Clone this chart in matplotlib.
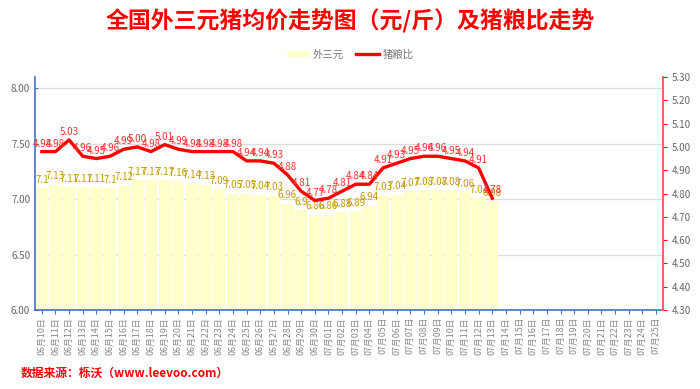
import numpy as np
import matplotlib
matplotlib.use("Agg")
import matplotlib.pyplot as plt
from matplotlib.patches import Patch
from matplotlib.lines import Line2D

plt.rcParams['font.family'] = ['Noto Sans CJK SC', 'DejaVu Sans']

# 日期 06-10 ~ 07-25
dates = ([f"06月{d:02d}日" for d in range(10, 31)] +
         [f"07月{d:02d}日" for d in range(1, 26)])

price = [7.10, 7.13, 7.11, 7.11, 7.11, 7.10, 7.12, 7.17, 7.17, 7.17,
         7.16, 7.14, 7.13, 7.09, 7.05, 7.05, 7.04, 7.03, 6.96, 6.90,
         6.86, 6.86, 6.88, 6.89, 6.94, 7.03, 7.04, 7.07, 7.08, 7.08,
         7.08, 7.06, 7.01, 6.98]

ratio = [4.98, 4.98, 5.03, 4.96, 4.95, 4.96, 4.99, 5.00, 4.98, 5.01,
         4.99, 4.98, 4.98, 4.98, 4.98, 4.94, 4.94, 4.93, 4.88, 4.81,
         4.77, 4.78, 4.81, 4.84, 4.84, 4.91, 4.93, 4.95, 4.96, 4.96,
         4.95, 4.94, 4.91, 4.78]

fig = plt.figure(figsize=(7, 3.89), dpi=100)
ax = fig.add_axes([0.05, 0.203, 0.897, 0.599])
ax2 = ax.twinx()

x = np.arange(len(dates))
n = len(price)

ax.bar(x[:n], np.array(price) - 6.0, bottom=6.0, width=0.9,
       color='#ffffcc', zorder=2)
for xi, v in zip(x[:n], price):
    ax.text(xi, v + 0.03, f"{v:g}", ha='center', va='bottom',
            fontsize=7, color='#c49a00', zorder=5)

ax.set_xlim(-0.5, len(dates) - 0.5)
ax.set_ylim(6.0, 8.1)
ax.set_yticks(np.arange(6.0, 8.01, 0.5))
ax.set_yticklabels([f"{v:.2f}" for v in np.arange(6.0, 8.01, 0.5)])
ax.grid(axis='y', color='#dddddd', linewidth=1, zorder=0)
ax.set_axisbelow(True)
ax.set_xticks(x)
ax.set_xticklabels(dates, rotation=90, fontsize=6.4, color='#888888')
ax.tick_params(axis='y', labelsize=7, colors='#666666', length=2,
               direction='in', color='#4472c4')
ax.tick_params(axis='x', length=3, color='#4472c4', pad=2)
for s in ['top', 'right']:
    ax.spines[s].set_visible(False)
ax.spines['left'].set_color('#4472c4')
ax.spines['bottom'].set_color('#4472c4')
ax.spines['left'].set_linewidth(1.2)
ax.spines['bottom'].set_linewidth(1.2)

ax2.plot(x[:n], ratio, color='#ff0000', linewidth=2.4, zorder=4)
for xi, v in zip(x[:n], ratio):
    ax2.text(xi, v + 0.012, f"{v:.2f}", ha='center', va='bottom',
             fontsize=7, color='#ff3030', zorder=6)
ax2.set_ylim(4.3, 5.3)
ax2.set_yticks(np.arange(4.3, 5.31, 0.1))
ax2.set_yticklabels([f"{v:.2f}" for v in np.arange(4.3, 5.31, 0.1)])
ax2.tick_params(axis='y', labelsize=7, colors='#666666', length=3,
                color='#ff0000')
for s in ['top', 'left', 'bottom']:
    ax2.spines[s].set_visible(False)
ax2.spines['right'].set_color('#ff6060')
ax2.spines['right'].set_linewidth(1.5)

fig.text(0.5, 0.945, "全国外三元猪均价走势图（元/斤）及猪粮比走势",
         ha='center', va='center', fontsize=16.5, fontweight='bold',
         color='#ff0000')

handles = [Patch(facecolor='#ffffcc', edgecolor='none'),
           Line2D([0], [0], color='#ff0000', linewidth=2.4)]
fig.legend(handles, ['外三元', '猪粮比'], loc='center',
           bbox_to_anchor=(0.5, 0.86), ncol=2, frameon=False,
           fontsize=7.5, labelcolor='#777777', handlelength=2.2,
           handleheight=0.5, columnspacing=1.2, handletextpad=0.3)

fig.text(0.03, 0.04, "数据来源：栎沃（www.leevoo.com）", ha='left',
         va='center', fontsize=8.5, fontweight='bold', color='#ff0000')

fig.savefig("out.png", dpi=100)
